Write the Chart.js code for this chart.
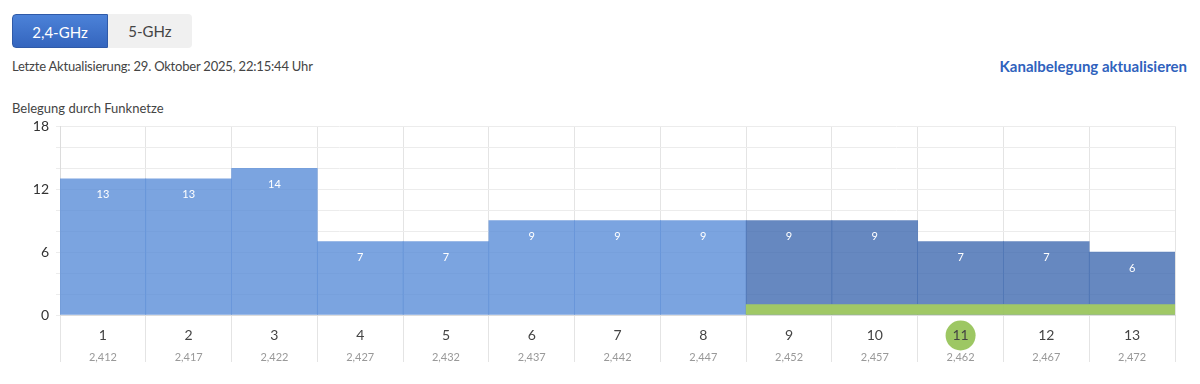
<!DOCTYPE html>
<html><head><meta charset="utf-8">
<script src="https://cdn.jsdelivr.net/npm/chart.js@4/dist/chart.umd.min.js"></script>
<style>
html,body{margin:0;padding:0;background:#fff;width:1200px;height:384px;overflow:hidden;font-family:Lato,"Open Sans",sans-serif;}
.btns{position:absolute;left:12px;top:14px;height:34px;display:flex;}
.btn{height:34px;line-height:34px;text-align:center;font-size:15px;box-sizing:border-box;}
.b1{width:96px;background:linear-gradient(#4c82d8,#3465be);color:#fff;border-radius:4px 0 0 4px;border:1px solid #2f5aa8;}
.b2{width:84px;background:#f0f0f0;color:#444;border-radius:0 4px 4px 0;}
.upd{position:absolute;left:12px;top:58px;font-size:13px;color:#444;letter-spacing:-0.2px;}
.link{position:absolute;right:13px;top:57px;font-size:15px;color:#2f62bd;font-weight:bold;}
.title{position:absolute;left:12px;top:100px;font-size:13px;color:#444;}
#wrap{position:absolute;left:0;top:111px;width:1200px;height:273px;}
</style></head><body>
<div class="btns"><div class="btn b1">2,4-GHz</div><div class="btn b2">5-GHz</div></div>
<div class="upd">Letzte Aktualisierung: 29. Oktober 2025, 22:15:44 Uhr</div>
<div class="link">Kanalbelegung aktualisieren</div>
<div class="title">Belegung durch Funknetze</div>
<div id="wrap"><canvas id="c"></canvas></div>
<script>
const channels = ['1','2','3','4','5','6','7','8','9','10','11','12','13'];
const frequencies = ['2,412','2,417','2,422','2,427','2,432','2,437','2,442','2,447','2,452','2,457','2,462','2,467','2,472'];
const networks = [13,13,14,7,7,9,9,9,9,9,7,7,6];
const ownRange = [null,null,null,null,null,null,null,null,1,1,1,1,1];
const inRange = [false,false,false,false,false,false,false,false,true,true,true,true,true];
const currentChannel = '11';
const yTicks = [0,6,12,18];

const LIGHT='rgba(90,141,216,0.8)', DARK='rgba(64,106,176,0.8)';

const labelPlugin = {
  id:'lbls',
  afterDatasetsDraw(chart){
    const ctx=chart.ctx, meta=chart.getDatasetMeta(1);
    ctx.save();
    ctx.fillStyle='#fff';
    ctx.font='11px Lato, sans-serif';
    ctx.textAlign='center';ctx.textBaseline='middle';
    meta.data.forEach((bar,i)=>{
      ctx.fillText(String(networks[i]), bar.x, bar.y+16);
    });
    ctx.restore();
  },
  afterDraw(chart){
    const ctx=chart.ctx, xs=chart.scales.x, b=chart.chartArea.bottom;
    ctx.save();
    ctx.textAlign='center';ctx.textBaseline='middle';
    channels.forEach((c,i)=>{
      const x=xs.getPixelForValue(i);
      if(c===currentChannel){
        ctx.fillStyle='#9dc763';
        ctx.beginPath();ctx.arc(x,b+20.5,15,0,Math.PI*2);ctx.fill();
      }
      ctx.fillStyle='#444';
      ctx.font='14px Lato, sans-serif';
      ctx.fillText(c,x,b+20);
      ctx.fillStyle='#999';
      ctx.font='11px Lato, sans-serif';
      ctx.fillText(frequencies[i],x,b+42);
    });
    ctx.restore();
  }
};

new Chart(document.getElementById('c'),{
  type:'bar',
  data:{labels:channels,datasets:[
    {label:'Eigener Bereich',data:ownRange,backgroundColor:'#a0c866',order:0,grouped:false,barPercentage:1,categoryPercentage:1},
    {label:'Funknetze',data:networks,backgroundColor:inRange.map(v=>v?DARK:LIGHT),order:1,grouped:false,barPercentage:1,categoryPercentage:1}
  ]},
  options:{
    responsive:true,maintainAspectRatio:false,animation:false,
    layout:{padding:{top:5,right:25,left:0,bottom:0}},
    plugins:{legend:{display:false},tooltip:{enabled:false}},
    scales:{
      x:{
        offset:true,
        grid:{offset:true,color:'#e4e4e4',tickLength:47,drawTicks:true},
        border:{color:'#dcdcdc'},
        ticks:{display:false},
        afterFit:s=>{s.height=69;}
      },
      y:{
        min:0,max:18,
        grid:{color:'#ececec',tickLength:4},
        border:{color:'#dcdcdc'},
        ticks:{stepSize:2,padding:7,color:'#333',font:{size:14,family:'Lato, sans-serif'},
          callback:v=>yTicks.includes(v)?String(v):''},
        afterFit:s=>{s.width=60;}
      }
    }
  },
  plugins:[labelPlugin]
});
</script>
</body></html>
